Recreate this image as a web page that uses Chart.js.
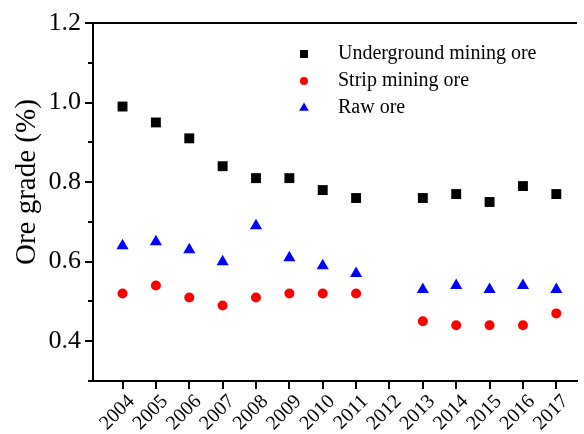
<!DOCTYPE html>
<html>
<head>
<meta charset="utf-8">
<script src="https://cdn.jsdelivr.net/npm/chart.js@4.4.1/dist/chart.umd.min.js"></script>
<style>
  html, body { margin: 0; padding: 0; background: #fff; }
  #wrap { width: 584px; height: 434px; position: relative; }
</style>
</head>
<body>
<div id="wrap"><canvas id="chart"></canvas></div>
<script>
const years = [2004, 2005, 2006, 2007, 2008, 2009, 2010, 2011, 2013, 2014, 2015, 2016, 2017];
const axisYears = [2004, 2005, 2006, 2007, 2008, 2009, 2010, 2011, 2012, 2013, 2014, 2015, 2016, 2017];
const undergroundOre = [0.99, 0.95, 0.91, 0.84, 0.81, 0.81, 0.78, 0.76, 0.76, 0.77, 0.75, 0.79, 0.77];
const stripOre = [0.52, 0.54, 0.51, 0.49, 0.51, 0.52, 0.52, 0.52, 0.45, 0.44, 0.44, 0.44, 0.47];
const rawOre = [0.64, 0.65, 0.63, 0.60, 0.69, 0.61, 0.59, 0.57, 0.53, 0.54, 0.53, 0.54, 0.53];
const yTicks = [0.4, 0.6, 0.8, 1.0, 1.2];
const yMinorTicks = [0.3, 0.5, 0.7, 0.9, 1.1];
const yTitle = "Ore grade (%)";

const FONT = "'Liberation Serif', 'Times New Roman', serif";

function points(values) {
  return values.map((v, i) => ({ x: years[i], y: v }));
}

const series = [
  { label: "Underground mining ore", data: points(undergroundOre), color: "#000000", style: "rect", radius: 7 },
  { label: "Strip mining ore", data: points(stripOre), color: "#ff0000", style: "circle", radius: 5 },
  { label: "Raw ore", data: points(rawOre), color: "#0000ff", style: "triangle", radius: 7 }
];

// y axis ticks (major + minor), top border line and the y title
const frame = {
  id: "frame",
  afterDraw(chart) {
    const { ctx, chartArea } = chart;
    const y = chart.scales.y;
    ctx.save();
    ctx.strokeStyle = "#000";
    ctx.lineWidth = 2;
    ctx.beginPath();
    yTicks.forEach((v) => {
      const py = Math.round(y.getPixelForValue(v));
      ctx.moveTo(chartArea.left, py);
      ctx.lineTo(chartArea.left - 8, py);
    });
    yMinorTicks.forEach((v) => {
      const py = Math.round(y.getPixelForValue(v));
      ctx.moveTo(chartArea.left, py);
      ctx.lineTo(chartArea.left - 5, py);
    });
    ctx.moveTo(chartArea.left - 1, chartArea.top);
    ctx.lineTo(chartArea.right, chartArea.top);
    ctx.stroke();

    // title sits a little above the middle of the axis, as in the original
    ctx.translate(27, y.getPixelForValue(0.8));
    ctx.rotate(-Math.PI / 2);
    ctx.font = "29px " + FONT;
    ctx.fillStyle = "#000";
    ctx.textAlign = "center";
    ctx.textBaseline = "middle";
    ctx.fillText(yTitle, 0, 0);
    ctx.restore();
  }
};

// legend drawn inside the plot area
const insideLegend = {
  id: "insideLegend",
  afterDraw(chart) {
    const { ctx, chartArea } = chart;
    ctx.save();
    ctx.font = "20px " + FONT;
    ctx.textBaseline = "middle";
    chart.data.datasets.forEach((ds, i) => {
      const cy = chartArea.top + 31 + i * 27;
      const cx = chartArea.left + 211;
      ctx.fillStyle = ds.backgroundColor;
      ctx.strokeStyle = ds.borderColor;
      Chart.helpers.drawPoint(ctx, {
        pointStyle: ds.pointStyle,
        radius: ds.pointRadius * 0.8,
        borderWidth: 0
      }, cx, cy);
      ctx.fillStyle = "#000";
      ctx.fillText(ds.label, cx + 34, cy);
    });
    ctx.restore();
  }
};

new Chart(document.getElementById("chart"), {
  type: "scatter",
  data: {
    datasets: series.map((s) => ({
      label: s.label,
      data: s.data,
      pointStyle: s.style,
      pointRadius: s.radius,
      pointHoverRadius: s.radius,
      backgroundColor: s.color,
      borderColor: s.color,
      borderWidth: 0
    }))
  },
  options: {
    responsive: true,
    maintainAspectRatio: false,
    animation: false,
    layout: { padding: { top: 23, right: 0, left: 16, bottom: 0 } },
    plugins: { legend: { display: false }, tooltip: { enabled: false } },
    scales: {
      x: {
        type: "linear",
        min: 2003.115,
        max: 2017.62,
        afterBuildTicks(scale) {
          scale.ticks = axisYears.map((v) => ({ value: v }));
        },
        afterFit(scale) {
          scale.height = 53;
          scale.paddingLeft = 0;
          scale.paddingRight = 0;
        },
        border: { display: true, color: "#000", width: 2 },
        grid: { display: true, drawOnChartArea: false, drawTicks: true, tickLength: 8, color: "#000", lineWidth: 2 },
        ticks: {
          color: "#000",
          font: { family: FONT, size: 20 },
          minRotation: 45,
          maxRotation: 45,
          autoSkip: false,
          labelOffset: 9,
          padding: 1,
          callback: (v) => String(v)
        }
      },
      y: {
        min: 0.3,
        max: 1.2,
        afterBuildTicks(scale) {
          scale.ticks = yTicks.map((v) => ({ value: v }));
        },
        afterFit(scale) {
          scale.width = 77;
          scale.paddingTop = 0;
          scale.paddingBottom = 0;
        },
        border: { display: true, color: "#000", width: 2 },
        grid: { display: false },
        title: { display: false },
        ticks: {
          color: "#000",
          font: { family: FONT, size: 26 },
          padding: 4,
          callback: (v) => v.toFixed(1)
        }
      }
    }
  },
  plugins: [frame, insideLegend]
});
</script>
</body>
</html>
